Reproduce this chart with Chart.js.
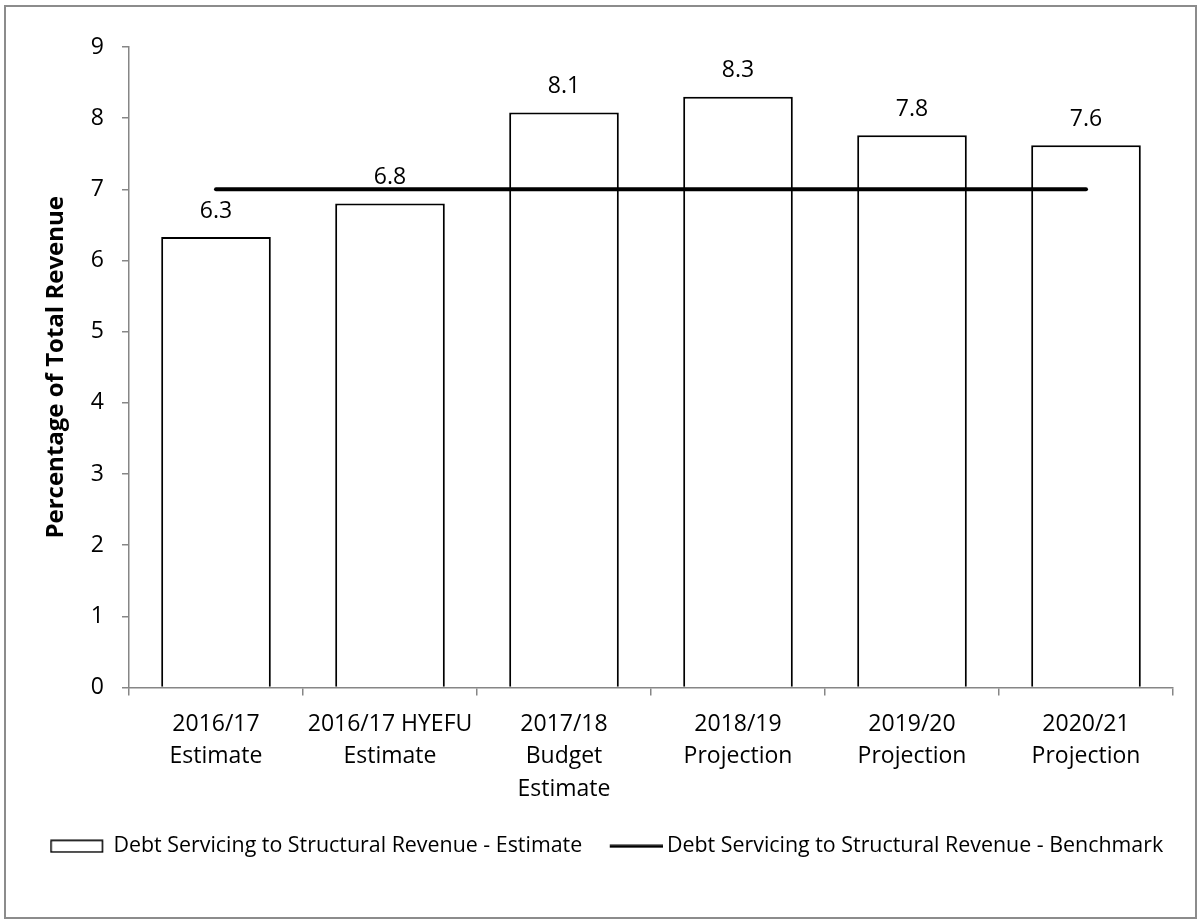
<!DOCTYPE html>
<html>
<head>
<meta charset="utf-8">
<script src="https://cdn.jsdelivr.net/npm/chart.js@4.4.0/dist/chart.umd.min.js"></script>
<style>
  body { margin: 0; background: #fff; }
  #wrap { position: relative; width: 1200px; height: 923px; }
  #frame {
    position: absolute; left: 4px; top: 5px; width: 1189px; height: 910px;
    border: 2px solid #8c8c8c; pointer-events: none;
  }
  canvas { position: absolute; left: 0; top: 0; }
</style>
</head>
<body>
<div id="wrap">
  <canvas id="debtChart" width="1200" height="923"></canvas>
  <div id="frame"></div>
</div>
<script>
// chart data
const categories = [
    ['2016/17', 'Estimate'],
    ['2016/17 HYEFU', 'Estimate'],
    ['2017/18', 'Budget', 'Estimate'],
    ['2018/19', 'Projection'],
    ['2019/20', 'Projection'],
    ['2020/21', 'Projection']
];
const estimateValues = [6.33, 6.8, 8.08, 8.3, 7.76, 7.62];
const benchmarkValues = [7, 7, 7, 7, 7, 7];
const yTicks = [0, 1, 2, 3, 4, 5, 6, 7, 8, 9];

const FONT = "'Open Sans', 'DejaVu Sans', sans-serif";
const AXIS_GREY = '#868686';

// legend icons (small canvases used as point styles).
// Marks sit towards the right so the label text follows them closely.
const ICON_W = 79;
function makeIcon(h, draw) {
    const c = document.createElement('canvas');
    c.width = ICON_W; c.height = h;
    draw(c.getContext('2d'));
    return c;
}
const boxIcon = makeIcon(14, ctx => {
    ctx.fillStyle = '#fff';
    ctx.fillRect(20, 1, 53, 12);
    ctx.strokeStyle = '#000';
    ctx.lineWidth = 1.5;
    ctx.strokeRect(20.75, 1.25, 51.5, 11.5);
});
const lineIcon = makeIcon(4, ctx => {
    ctx.fillStyle = '#000';
    ctx.fillRect(26, 0.5, 53, 3);
});

// value labels above the bars
const barLabels = {
    id: 'barLabels',
    afterDatasetsDraw(chart) {
        const meta = chart.getDatasetMeta(0);
        const ctx = chart.ctx;
        ctx.save();
        ctx.font = '23px ' + FONT;
        ctx.fillStyle = '#000';
        ctx.textAlign = 'center';
        ctx.textBaseline = 'middle';
        meta.data.forEach((bar, i) => {
            ctx.fillText(estimateValues[i].toFixed(1), bar.x, bar.y - 26);
        });
        ctx.restore();
    }
};

const defaultLabels = Chart.defaults.plugins.legend.labels.generateLabels;

new Chart(document.getElementById('debtChart'), {
    data: {
        labels: categories,
        datasets: [{
            type: 'bar',
            label: 'Debt Servicing to Structural Revenue - Estimate',
            data: estimateValues,
            backgroundColor: '#fff',
            borderColor: '#000',
            borderWidth: 2,
            barPercentage: 0.63,
            categoryPercentage: 1,
            order: 1
        }, {
            type: 'line',
            label: 'Debt Servicing to Structural Revenue - Benchmark',
            data: benchmarkValues,
            borderColor: '#000',
            backgroundColor: '#000',
            borderWidth: 4,
            borderCapStyle: 'round',
            pointRadius: 0,
            fill: false,
            order: 0
        }]
    },
    options: {
        responsive: false,
        animation: false,
        layout: {
            padding: { left: 27, right: 27, top: 47, bottom: 56 }
        },
        plugins: {
            tooltip: { enabled: false },
            legend: {
                position: 'bottom',
                labels: {
                    font: { family: FONT, size: 21.4 },
                    color: '#000',
                    usePointStyle: true,
                    pointStyleWidth: 66,
                    padding: 8,
                    sort: (a, b) => a.datasetIndex - b.datasetIndex,
                    generateLabels(chart) {
                        const items = defaultLabels(chart);
                        items.forEach(it => {
                            it.pointStyle = it.datasetIndex === 0 ? boxIcon : lineIcon;
                        });
                        return items;
                    }
                }
            }
        },
        scales: {
            x: {
                grid: {
                    offset: true,
                    drawOnChartArea: false,
                    color: AXIS_GREY,
                    tickLength: 8,
                    lineWidth: 1.5
                },
                border: { color: AXIS_GREY, width: 1.5 },
                ticks: {
                    font: { family: FONT, size: 23, lineHeight: 1.4 },
                    color: '#000',
                    padding: 13,
                    maxRotation: 0,
                    autoSkip: false
                },
                afterFit(scale) { scale.height = 140; }
            },
            y: {
                min: 0,
                max: 9,
                afterBuildTicks(scale) {
                    scale.ticks = yTicks.map(v => ({ value: v }));
                },
                grid: {
                    drawOnChartArea: false,
                    color: AXIS_GREY,
                    tickLength: 7,
                    lineWidth: 1.5
                },
                border: { color: AXIS_GREY, width: 1.5 },
                ticks: {
                    font: { family: FONT, size: 23 },
                    color: '#000',
                    padding: 18
                },
                title: {
                    display: true,
                    text: 'Percentage of Total Revenue',
                    font: { family: FONT, size: 24, weight: 'bold' },
                    color: '#000',
                    padding: { top: 15, bottom: 0 }
                },
                afterFit(scale) { scale.width = 102; }
            }
        }
    },
    plugins: [barLabels]
});
</script>
</body>
</html>
